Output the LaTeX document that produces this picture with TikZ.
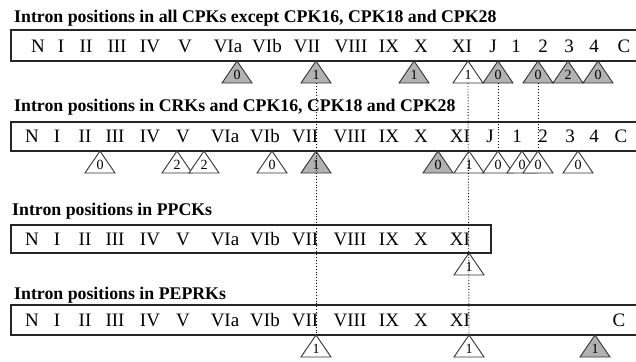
\documentclass[tikz,border=0pt]{standalone}
\usepackage{fontspec}
\setmainfont{Liberation Serif}
\begin{document}
\begin{tikzpicture}[x=1pt,y=-1pt,
  domainbox/.style={draw=black!85,line width=1.3pt},
  heading/.style={anchor=west,inner sep=0pt,font=\bfseries\fontsize{17.8}{18}\selectfont},
  dlabel/.style={inner sep=0pt,font=\fontsize{19}{19}\selectfont},
  trinum/.style={inner sep=0pt,font=\fontsize{14}{14}\selectfont},
  tribox/.style={draw=black!80,line width=0.9pt,line join=miter},
  sharedfill/.style={fill=black!30},
  singlefill/.style={fill=white},
  linkline/.style={draw=black,line width=0.9pt,dotted}]
\useasboundingbox (0,0) rectangle (636,361);

% intron triangle: name, x of apex, y of apex, phase, fill style
\newcommand\intron[5]{%
  \draw[tribox,#5] (#2,#3) -- ++(15,22) -- ++(-30,0) -- cycle;
  \node[trinum] (#1) at (#2,#3+14) {#4};
  \coordinate (#1-top) at (#2,#3);
  \coordinate (#1-bot) at (#2,#3+22);}

% domain labels along a bar: list of x/label pairs, row prefix, centre y
\newcommand\domains[3]{%
  \foreach \dx/\dl [count=\di] in {#1}
    \node[dlabel] (#2\di) at (\dx,#3) {\dl};}

% ---- CPKs ----
\node[heading] (h1) at (14,18) {Intron positions in all CPKs except CPK16, CPK18 and CPK28};
\draw[domainbox] (11,30) rectangle (640,61);
\domains{38/N,61/I,86/II,117/III,150/IV,185/V,228/VIa,267/VIb,307/VII,351/VIII,389/IX,421/X,462/XI,493/J,516/1,543/2,569/3,594/4,624/C}{a}{46}
\intron{a0}{237}{61}{0}{sharedfill}
\intron{a1}{316}{61}{1}{sharedfill}
\intron{a2}{414}{61}{1}{sharedfill}
\intron{a3}{468}{61}{1}{singlefill}
\intron{a4}{498}{61}{0}{sharedfill}
\intron{a5}{538}{61}{0}{sharedfill}
\intron{a6}{568}{61}{2}{sharedfill}
\intron{a7}{598}{61}{0}{sharedfill}

% ---- CRKs and CPK16, CPK18, CPK28 ----
\node[heading] (h2) at (14,107) {Intron positions in CRKs and CPK16, CPK18 and CPK28};
\draw[domainbox] (11,122) rectangle (640,151);
\domains{32/N,57/I,85/II,115/III,150/IV,183/V,225/VIa,265/VIb,305/VII,350/VIII,389/IX,421/X,460/XI,490/J,517/1,543/2,570/3,594/4,621/C}{b}{136}
\intron{b0}{100}{151}{0}{singlefill}
\intron{b1}{177}{151}{2}{singlefill}
\intron{b2}{204}{151}{2}{singlefill}
\intron{b3}{272}{151}{0}{singlefill}
\intron{b4}{316}{151}{1}{sharedfill}
\intron{b5}{438}{151}{0}{sharedfill}
\intron{b6}{469}{151}{1}{singlefill}
\intron{b7}{498}{151}{0}{singlefill}
\intron{b8}{522}{151}{0}{singlefill}
\intron{b9}{538}{151}{0}{singlefill}
\intron{b10}{578}{151}{0}{singlefill}

% ---- PPCKs ----
\node[heading] (h3) at (12,211) {Intron positions in PPCKs};
\draw[domainbox] (11,225) rectangle (491,253);
\domains{32/N,57/I,85/II,115/III,150/IV,183/V,225/VIa,265/VIb,305/VII,350/VIII,389/IX,421/X,460/XI}{c}{239}
\intron{c0}{469}{253}{1}{singlefill}

% ---- PEPRKs ----
\node[heading] (h4) at (14,295) {Intron positions in PEPRKs};
\draw[domainbox] (11,305) rectangle (640,335);
\domains{32/N,57/I,85/II,115/III,150/IV,183/V,225/VIa,265/VIb,305/VII,350/VIII,389/IX,421/X,460/XI,619/C}{d}{320}
\intron{d0}{316}{335}{1}{singlefill}
\intron{d1}{469}{335}{1}{singlefill}
\intron{d2}{595}{335}{1}{sharedfill}

% conserved positions linked across families
\draw[linkline] (a1-bot) -- (d0-top);
\draw[linkline] (a3-bot) -- (d1-top);
\draw[linkline] (a4-bot) -- (b7-top);
\draw[linkline] (a5-bot) -- (b9-top);
\end{tikzpicture}
\end{document}
